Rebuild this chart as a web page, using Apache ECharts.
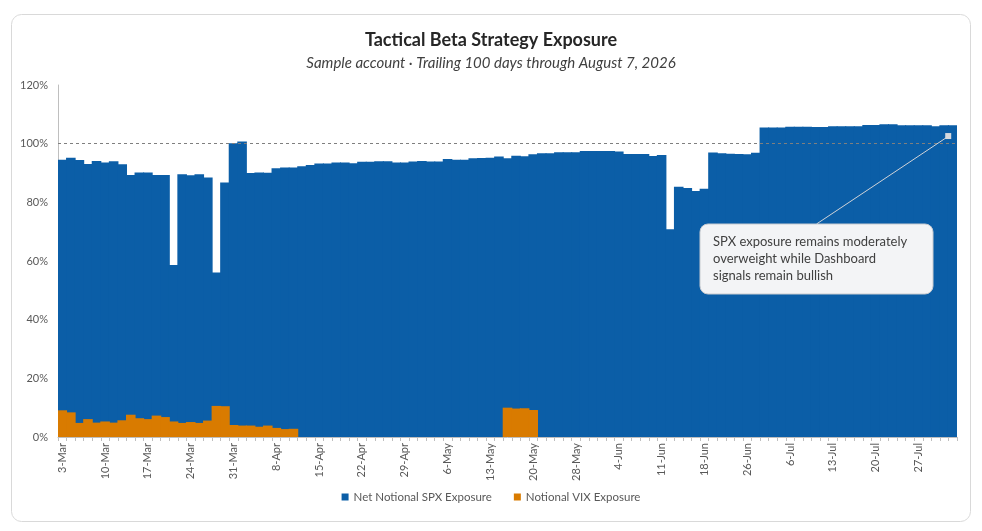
<!DOCTYPE html>
<html>
<head>
<meta charset="utf-8">
<title>Tactical Beta Strategy Exposure</title>
<script src="https://cdn.jsdelivr.net/npm/echarts@6/dist/echarts.min.js"></script>
<style>
	html, body { margin: 0; padding: 0; background: #fff; }
	#main { width: 982px; height: 531px; }
</style>
</head>
<body>
<div id="main"></div>
<script>
// trading days, 3-Mar .. 31-Jul
const categories = [
	'3-Mar', '4-Mar', '5-Mar', '6-Mar', '9-Mar', '10-Mar', '11-Mar', '12-Mar', '13-Mar', '16-Mar',
	'17-Mar', '18-Mar', '19-Mar', '20-Mar', '23-Mar', '24-Mar', '25-Mar', '26-Mar', '27-Mar', '30-Mar',
	'31-Mar', '1-Apr', '2-Apr', '6-Apr', '7-Apr', '8-Apr', '9-Apr', '10-Apr', '13-Apr', '14-Apr',
	'15-Apr', '16-Apr', '17-Apr', '20-Apr', '21-Apr', '22-Apr', '23-Apr', '24-Apr', '27-Apr', '28-Apr',
	'29-Apr', '30-Apr', '1-May', '4-May', '5-May', '6-May', '7-May', '8-May', '11-May', '12-May',
	'13-May', '14-May', '15-May', '18-May', '19-May', '20-May', '21-May', '22-May', '26-May', '27-May',
	'28-May', '29-May', '1-Jun', '2-Jun', '3-Jun', '4-Jun', '5-Jun', '8-Jun', '9-Jun', '10-Jun',
	'11-Jun', '12-Jun', '15-Jun', '16-Jun', '17-Jun', '18-Jun', '22-Jun', '23-Jun', '24-Jun', '25-Jun',
	'26-Jun', '29-Jun', '30-Jun', '1-Jul', '2-Jul', '6-Jul', '7-Jul', '8-Jul', '9-Jul', '10-Jul',
	'13-Jul', '14-Jul', '15-Jul', '16-Jul', '17-Jul', '20-Jul', '21-Jul', '22-Jul', '23-Jul', '24-Jul',
	'27-Jul', '28-Jul', '29-Jul', '30-Jul', '31-Jul'
];

// % of account
const spxExposure = [
	94.5, 95.2, 94.4, 93.1, 94.1, 93.6, 94.0, 93.0, 89.3, 90.2,
	90.2, 89.3, 89.3, 58.6, 89.6, 89.2, 89.6, 88.5, 56.1, 86.8,
	100.1, 100.7, 90.0, 90.2, 90.1, 91.6, 91.9, 91.9, 92.3, 92.7,
	93.2, 93.2, 93.6, 93.6, 93.3, 93.8, 93.8, 94.0, 94.0, 93.6,
	93.6, 93.9, 94.1, 93.9, 93.9, 94.8, 94.5, 94.5, 95.0, 95.1,
	95.2, 95.6, 95.0, 95.9, 95.7, 96.4, 96.7, 96.7, 97.1, 97.1,
	97.1, 97.5, 97.5, 97.5, 97.5, 97.3, 96.5, 96.5, 96.5, 95.8,
	96.1, 70.8, 85.3, 84.9, 83.9, 84.6, 97.0, 96.7, 96.6, 96.5,
	96.4, 96.9, 105.5, 105.5, 105.5, 105.8, 105.8, 105.8, 105.7, 105.7,
	105.9, 105.9, 105.9, 105.9, 106.4, 106.4, 106.6, 106.6, 106.3, 106.3,
	106.3, 106.3, 105.9, 106.3, 106.3
];

const vixExposure = [
	9.1, 8.4, 4.8, 6.1, 4.9, 5.3, 4.9, 5.7, 7.6, 6.4,
	6.1, 7.3, 6.8, 5.3, 4.8, 5.1, 4.8, 5.6, 10.6, 10.5,
	4.1, 3.9, 3.9, 3.5, 3.9, 3.1, 2.7, 2.8, 0, 0,
	0, 0, 0, 0, 0, 0, 0, 0, 0, 0,
	0, 0, 0, 0, 0, 0, 0, 0, 0, 0,
	0, 0, 10.0, 9.7, 9.8, 9.2, 0, 0, 0, 0,
	0, 0, 0, 0, 0, 0, 0, 0, 0, 0,
	0, 0, 0, 0, 0, 0, 0, 0, 0, 0,
	0, 0, 0, 0, 0, 0, 0, 0, 0, 0,
	0, 0, 0, 0, 0, 0, 0, 0, 0, 0,
	0, 0, 0, 0, 0
];

const seriesNames = ['Net Notional SPX Exposure', 'Notional VIX Exposure'];
const targetLevel = 100;
const calloutText = 'SPX exposure remains moderately\noverweight while Dashboard\nsignals remain bullish';
const calloutValue = 102.6; // where the leader line lands on the last bar

const FONT = 'Lato, "Open Sans", sans-serif';
const BLUE = '#0B5EA7';
const ORANGE = '#D97B00';

let myChart = echarts.init(document.getElementById('main'), null, { renderer: 'canvas' });

let option = {
	animation: false,
	textStyle: { fontFamily: FONT },
	title: {
		text: 'Tactical Beta Strategy Exposure',
		subtext: 'Sample account · Trailing 100 days through August 7, 2026',
		left: 'center',
		top: 26,
		itemGap: 7,
		textStyle: { fontSize: 18, fontWeight: 'bold', color: '#262626', fontFamily: FONT },
		subtextStyle: { fontSize: 15, fontStyle: 'italic', color: '#404040', fontFamily: FONT }
	},
	legend: {
		bottom: 23,
		left: 'center',
		icon: 'rect',
		itemWidth: 7,
		itemHeight: 7,
		itemGap: 22,
		textStyle: { fontSize: 11.5, color: '#595959', fontFamily: FONT },
		data: seriesNames
	},
	grid: {
		left: 58,
		right: 25,
		top: 85,
		bottom: 94
	},
	xAxis: {
		type: 'category',
		data: categories,
		boundaryGap: true,
		axisLine: { lineStyle: { color: '#bfbfbf' } },
		axisTick: { show: true, interval: 0, length: 4, lineStyle: { color: '#bfbfbf' } },
		axisLabel: {
			interval: 4,
			rotate: 90,
			margin: 6,
			fontSize: 11,
			color: '#595959',
			fontFamily: FONT
		}
	},
	yAxis: {
		type: 'value',
		min: 0,
		max: 120,
		interval: 20,
		axisLine: { show: true, lineStyle: { color: '#bfbfbf' } },
		axisTick: { show: false },
		splitLine: { show: false },
		axisLabel: {
			formatter: '{value}%',
			fontSize: 11,
			color: '#595959',
			margin: 10,
			fontFamily: FONT
		}
	},
	series: [{
		name: seriesNames[0],
		type: 'bar',
		data: spxExposure,
		// slightly wider than the category so neighbouring bars overlap and no seams show
		barWidth: '112%',
		barGap: '-100%',
		itemStyle: { color: BLUE },
		markLine: {
			silent: true,
			symbol: 'none',
			label: { show: false },
			lineStyle: { color: '#7f7f7f', type: [3, 3], width: 1 },
			data: [{ yAxis: targetLevel }]
		}
	}, {
		name: seriesNames[1],
		type: 'bar',
		data: vixExposure,
		barWidth: '112%',
		barGap: '-100%',
		itemStyle: { color: ORANGE }
	}]
};
myChart.setOption(option);

// callout box + leader line to the last bar
let anchor = myChart.convertToPixel({ xAxisIndex: 0, yAxisIndex: 0 },
	[categories[categories.length - 1], calloutValue]);
let box = { x: 700, y: 224, w: 233, h: 70 };

myChart.setOption({
	graphic: [{
		type: 'rect',
		silent: true,
		shape: { x: 11.5, y: 14.5, width: 959, height: 507, r: 10 },
		style: { fill: 'none', stroke: '#d9d9d9', lineWidth: 1 }
	}, {
		type: 'line',
		silent: true,
		shape: { x1: box.x + box.w / 2, y1: box.y, x2: anchor[0] - 4, y2: anchor[1] },
		style: { stroke: '#d0d3d8', lineWidth: 1 },
		z: 10
	}, {
		type: 'rect',
		silent: true,
		shape: { x: anchor[0] - 7.5, y: anchor[1] - 3, width: 6, height: 6 },
		style: { fill: '#d6d9de' },
		z: 10
	}, {
		type: 'rect',
		silent: true,
		shape: { x: box.x, y: box.y, width: box.w, height: box.h, r: 8 },
		style: { fill: '#f3f4f6', stroke: '#c8cbd0', lineWidth: 1 },
		z: 10
	}, {
		type: 'text',
		silent: true,
		x: box.x + 13,
		y: box.y + 9,
		style: {
			text: calloutText,
			fill: '#404040',
			font: '13px ' + FONT,
			lineHeight: 17
		},
		z: 11
	}]
});
</script>
</body>
</html>
